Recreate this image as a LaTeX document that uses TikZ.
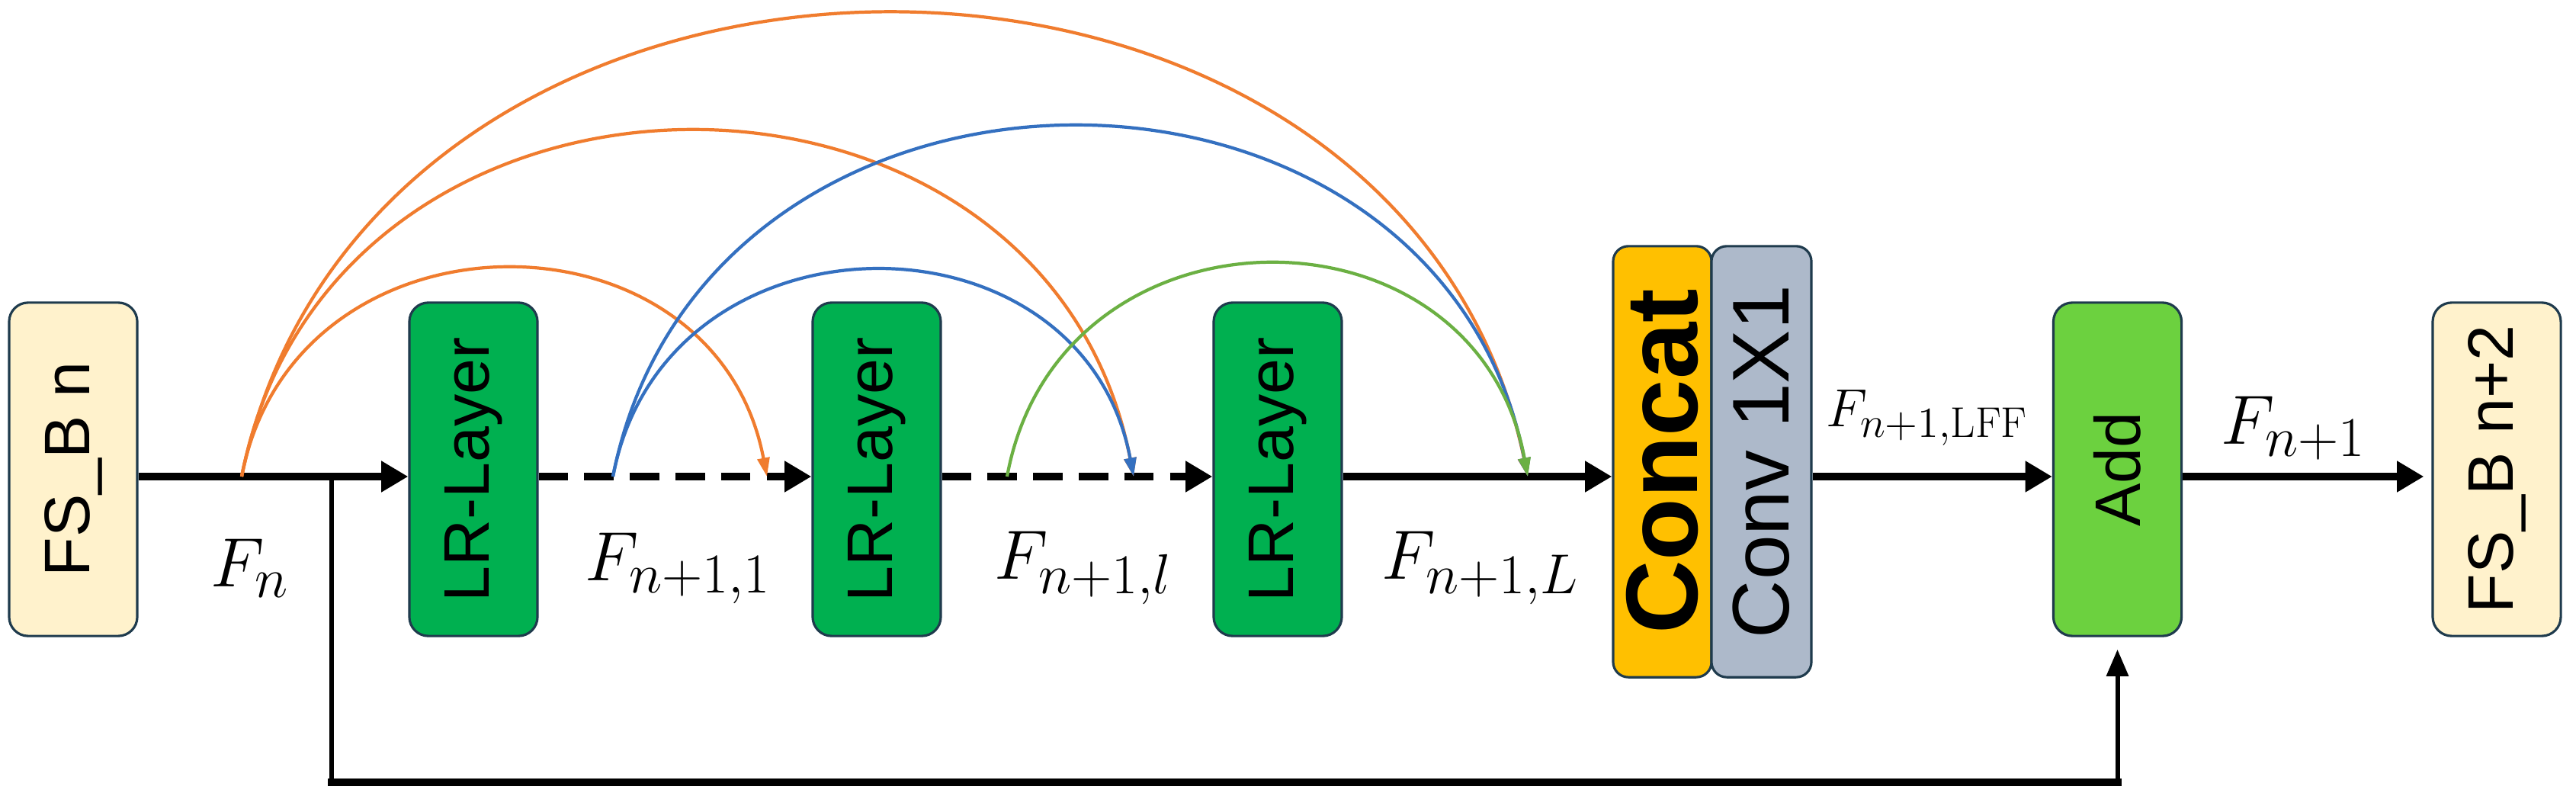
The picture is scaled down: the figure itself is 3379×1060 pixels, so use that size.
\RequirePackage{fix-cm}
\documentclass[tikz,border=0pt]{standalone}
\usepackage{fontspec}
\setsansfont{Liberation Sans}
\usepackage{graphicx}
\usetikzlibrary{arrows.meta}
\DeclareMathSizes{26}{26}{21}{16}
\DeclareMathSizes{20}{20}{16}{12}
\definecolor{cream}{HTML}{FFF2CC}
\definecolor{boxline}{HTML}{1F3B4D}
\definecolor{lrgreen}{HTML}{00B050}
\definecolor{addgreen}{HTML}{6CD13F}
\definecolor{concatc}{HTML}{FFC000}
\definecolor{convc}{HTML}{ADB9CA}
\definecolor{arcorange}{HTML}{F07C2E}
\definecolor{arcblue}{HTML}{3470C0}
\definecolor{arcgreen}{HTML}{6BB043}
\begin{document}
\begin{tikzpicture}[x=0.01cm,y=0.01cm,
  blk/.style={draw=boxline, line width=0.9pt, rounded corners=0.25cm,
    minimum width=1.68cm, minimum height=4.37cm, inner sep=0pt,
    font=\sffamily\fontsize{24}{28}\selectfont},
  tall/.style={draw=boxline, line width=0.9pt, rounded corners=0.2cm,
    minimum height=5.65cm, inner sep=0pt},
  lbl/.style={inner sep=0pt, font=\fontsize{26}{30}\selectfont},
  lbls/.style={inner sep=0pt, font=\fontsize{20}{24}\selectfont},
  main/.style={line width=2.8pt, -{Triangle[length=10pt,width=11pt]}},
  dashmain/.style={main, dash pattern=on 11pt off 6pt},
  vline/.style={line width=1.7pt},
  hline/.style={line width=3pt, line cap=rect},
  arcline/.style={line width=1.2pt, -{Triangle[length=7pt,width=4.5pt]}}
]
\useasboundingbox (0,0) rectangle (3379,1060);

% blocks
\node[blk, fill=cream] (fsb1) at (96,444.5) {\rotatebox{90}{FS\_B n}};
\node[blk, fill=lrgreen] (lr1) at (621,444.5) {\rotatebox{90}{LR-Layer}};
\node[blk, fill=lrgreen] (lr2) at (1150,444.5) {\rotatebox{90}{LR-Layer}};
\node[blk, fill=lrgreen] (lr3) at (1676,444.5) {\rotatebox{90}{LR-Layer}};
\node[tall, fill=concatc, minimum width=1.29cm,
  font=\sffamily\bfseries\fontsize{38}{42}\selectfont] (concat) at (2180.5,454.5) {\rotatebox{90}{Concat}};
\node[tall, fill=convc, minimum width=1.31cm,
  font=\sffamily\fontsize{30}{34}\selectfont] (conv) at (2310.5,454.5) {\rotatebox{90}{Conv 1X1}};
\node[blk, fill=addgreen] (add) at (2777.5,444.5) {\rotatebox{90}{Add}};
\node[blk, fill=cream] (fsb2) at (3275,444.5) {\rotatebox{90}{FS\_B n+2}};

% labels
\node[lbl] (lfn) at (328,315) {$F_n$};
\node[lbl] (lf1) at (889,315) {$F_{n+1,1}$};
\node[lbl] (lfl) at (1421,315) {$F_{n+1,l}$};
\node[lbl] (lfL) at (1942,315) {$F_{n+1,L}$};
\node[lbls] (lflff) at (2528,512) {$F_{n+1,\mathrm{LFF}}$};
\node[lbl] (lfn1) at (3008,498) {$F_{n+1}$};

% main line
\draw[main] ([yshift=-0.095cm]fsb1.east) -- ([yshift=-0.095cm]lr1.west);
\draw[dashmain] ([yshift=-0.095cm]lr1.east) -- ([yshift=-0.095cm]lr2.west);
\draw[dashmain] ([yshift=-0.095cm]lr2.east) -- ([yshift=-0.095cm]lr3.west);
\draw[main] ([yshift=-0.095cm]lr3.east) -- ([yshift=-0.095cm]lr3.east -| concat.west);
\draw[main] ([yshift=-0.095cm]add.west -| conv.east) -- ([yshift=-0.095cm]add.west);
\draw[main, shorten >=0.1cm] ([yshift=-0.095cm]add.east) -- ([yshift=-0.095cm]fsb2.west);

% residual branch
\coordinate (br) at (435,435);
\coordinate (bl) at (435,34);
\coordinate (brr) at (add.south |- bl);
\draw[vline] (br) -- (bl);
\draw[hline] (bl) -- (brr);
\draw[vline, -{Triangle[length=10pt,width=8pt]}, shorten >=0.16cm] (brr) -- (add.south);

% dense connections
\coordinate (o) at (317,435);
\coordinate (b) at (804,435);
\coordinate (g) at (1321,435);
\coordinate (t1) at (1006,435);
\coordinate (t2) at (1487,435);
\coordinate (t3) at (2004,435);
\draw[arcline, arcorange] (o) .. controls (386,798) and (937,798) .. (t1);
\draw[arcline, arcorange] (o) .. controls (434,1038) and (1370,1038) .. (t2);
\draw[arcline, arcorange] (o) .. controls (486,1244) and (1835,1244) .. (t3);
\draw[arcline, arcblue] (b) .. controls (872,795) and (1419,795) .. (t2);
\draw[arcline, arcblue] (b) .. controls (924,1046) and (1884,1046) .. (t3);
\draw[arcline, arcgreen] (g) .. controls (1389,806) and (1936,806) .. (t3);
\end{tikzpicture}
\end{document}
